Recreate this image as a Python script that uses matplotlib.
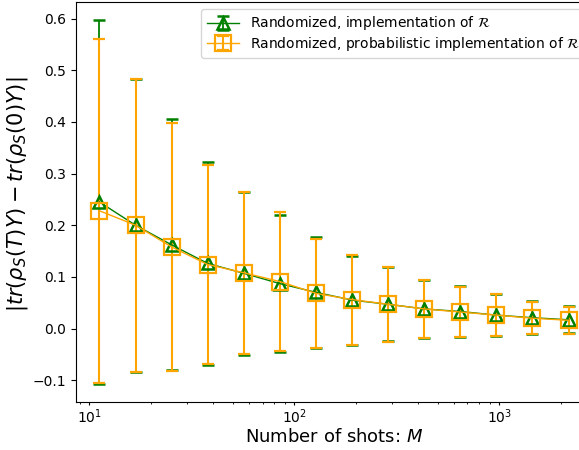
import matplotlib.pyplot as plt

# number of shots
shots = [11.2, 16.8, 25.2, 37.8, 56.7, 85, 128, 192, 287, 431, 646, 969, 1453, 2180]

# randomized, implementation of R
rand_mean = [0.245, 0.200, 0.162, 0.126, 0.107, 0.087, 0.070, 0.055, 0.047, 0.038, 0.033, 0.026, 0.021, 0.017]
rand_err = [0.352, 0.284, 0.243, 0.197, 0.158, 0.132, 0.108, 0.086, 0.072, 0.056, 0.049, 0.040, 0.032, 0.026]

# randomized, probabilistic implementation of R
prob_mean = [0.228, 0.200, 0.158, 0.124, 0.108, 0.091, 0.068, 0.056, 0.047, 0.038, 0.032, 0.026, 0.020, 0.016]
prob_err = [0.333, 0.284, 0.240, 0.193, 0.157, 0.135, 0.105, 0.087, 0.073, 0.056, 0.049, 0.040, 0.031, 0.026]

fig = plt.figure(figsize=(5.79, 4.5), dpi=100)
ax = fig.add_axes([76/579, 48/450, 516/579, 400/450])

ax.errorbar(shots, rand_mean, yerr=rand_err, color='green', marker='^', markersize=8,
            markerfacecolor='none', markeredgewidth=1.8, linewidth=1, elinewidth=1.3,
            capsize=4.5, capthick=2.2,
            label=r'Randomized, implementation of $\mathcal{R}$')
ax.errorbar(shots, prob_mean, yerr=prob_err, color='orange', marker='s', markersize=12,
            markerfacecolor='none', markeredgewidth=1.6, linewidth=1, elinewidth=1.5,
            capsize=4.5, capthick=1.5,
            label=r'Randomized, probabilistic implementation of $\mathcal{R}$')

ax.set_xscale('log')
ax.set_xlabel('Number of shots: $M$', fontsize=13, labelpad=1)
ax.set_ylabel(r'$|tr(\rho_S(T)Y) - tr(\rho_S(0)Y)|$', fontsize=15)
ax.yaxis.set_label_coords(-0.09, 0.52)
ax.tick_params(axis='y', labelsize=10)
ax.tick_params(axis='x', labelsize=10, length=2.5, pad=1.5)
ax.tick_params(axis='x', which='minor', length=1.5)
ax.legend(loc='upper right', fontsize=10, labelspacing=0.15, borderaxespad=0.5,
          handlelength=2.3)

fig.savefig('out.png', dpi=100)
